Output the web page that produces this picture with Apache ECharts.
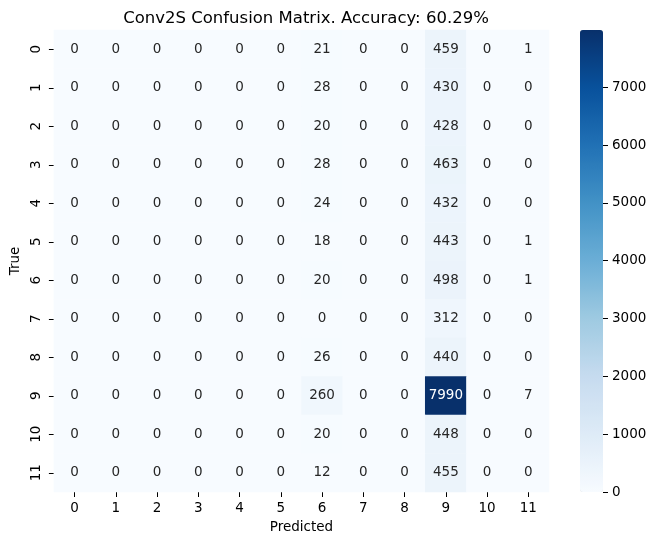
<!DOCTYPE html>
<html>
<head>
<meta charset="utf-8">
<script src="https://cdn.jsdelivr.net/npm/echarts@6/dist/echarts.min.js"></script>
<style>
html,body{margin:0;padding:0;background:#fff;}
#chart{width:658px;height:545px;}
</style>
</head>
<body>
<div id="chart"></div>
<script>
const predictedLabels = ['0','1','2','3','4','5','6','7','8','9','10','11'];
const trueLabels = ['0','1','2','3','4','5','6','7','8','9','10','11'];
const matrixRows = [
  [0,0,0,0,0,0,21,0,0,459,0,1],
  [0,0,0,0,0,0,28,0,0,430,0,0],
  [0,0,0,0,0,0,20,0,0,428,0,0],
  [0,0,0,0,0,0,28,0,0,463,0,0],
  [0,0,0,0,0,0,24,0,0,432,0,0],
  [0,0,0,0,0,0,18,0,0,443,0,1],
  [0,0,0,0,0,0,20,0,0,498,0,1],
  [0,0,0,0,0,0,0,0,0,312,0,0],
  [0,0,0,0,0,0,26,0,0,440,0,0],
  [0,0,0,0,0,0,260,0,0,7990,0,7],
  [0,0,0,0,0,0,20,0,0,448,0,0],
  [0,0,0,0,0,0,12,0,0,455,0,0]
];
const colorbarMin = 0;
const colorbarMax = 7990;
const colorbarInterval = 1000;
const titleText = 'Conv2S Confusion Matrix. Accuracy: 60.29%';
const blues = ['#f7fbff','#deebf7','#c6dbef','#9ecae1','#6baed6','#4292c6','#2171b5','#08519c','#08306b'];

const data = [];
matrixRows.forEach((row, i) => row.forEach((v, j) => data.push({
  value: [j, i, v],
  label: {color: v > colorbarMax * 0.5 ? '#ffffff' : '#262626'}
})));

const FONT = 'DejaVu Sans';
const chart = echarts.init(document.getElementById('chart'), null, {renderer: 'canvas'});
chart.setOption({
  animation: false,
  backgroundColor: '#fff',
  textStyle: {fontFamily: FONT},
  title: {
    text: titleText,
    left: 301, top: 5, textAlign: 'center',
    textStyle: {fontFamily: FONT, fontSize: 16.5, fontWeight: 'normal', color: '#000'}
  },
  grid: [
    {left: 53, top: 30, width: 496, height: 462},
    {left: 580, top: 30, width: 23, height: 462}
  ],
  xAxis: [
    {
      type: 'category', data: predictedLabels, gridIndex: 0, position: 'bottom',
      name: 'Predicted', nameLocation: 'middle', nameGap: 28,
      nameTextStyle: {fontFamily: FONT, fontSize: 13.5, color: '#000'},
      axisLine: {show: false},
      axisTick: {show: true, alignWithLabel: true, length: 5, lineStyle: {color: '#000'}},
      axisLabel: {fontFamily: FONT, fontSize: 13.5, color: '#000', margin: 9, interval: 0},
      splitLine: {show: false}, splitArea: {show: false}
    },
    {type: 'category', data: ['c'], gridIndex: 1, show: false}
  ],
  yAxis: [
    {
      type: 'category', data: trueLabels, gridIndex: 0, inverse: true,
      name: 'True', nameLocation: 'middle', nameGap: 31, nameRotate: 90,
      nameTextStyle: {fontFamily: FONT, fontSize: 13.5, color: '#000'},
      axisLine: {show: false},
      axisTick: {show: true, alignWithLabel: true, length: 5, lineStyle: {color: '#000'}},
      axisLabel: {fontFamily: FONT, fontSize: 13.5, color: '#000', margin: 10, rotate: 90, interval: 0},
      splitLine: {show: false}, splitArea: {show: false}
    },
    {
      type: 'value', gridIndex: 1, position: 'right',
      min: colorbarMin, max: colorbarMax, interval: colorbarInterval,
      axisLine: {show: false},
      axisTick: {show: true, length: 5, lineStyle: {color: '#000'}},
      axisLabel: {fontFamily: FONT, fontSize: 13.5, color: '#000', margin: 9, showMaxLabel: false,
        formatter: v => String(v)},
      splitLine: {show: false}
    }
  ],
  visualMap: {
    type: 'continuous', min: colorbarMin, max: colorbarMax, seriesIndex: 0,
    calculable: false, hoverLink: false, orient: 'vertical',
    left: 580, top: 30, padding: 0, itemWidth: 23, itemHeight: 462,
    text: null, showLabel: false,
    inRange: {color: blues}
  },
  series: [{
    type: 'heatmap', xAxisIndex: 0, yAxisIndex: 0, data: data,
    itemStyle: {borderWidth: 0},
    emphasis: {disabled: true},
    label: {
      show: true, fontFamily: FONT, fontSize: 13.5,
      formatter: p => String(p.value[2])
    }
  }]
});
</script>
</body>
</html>
